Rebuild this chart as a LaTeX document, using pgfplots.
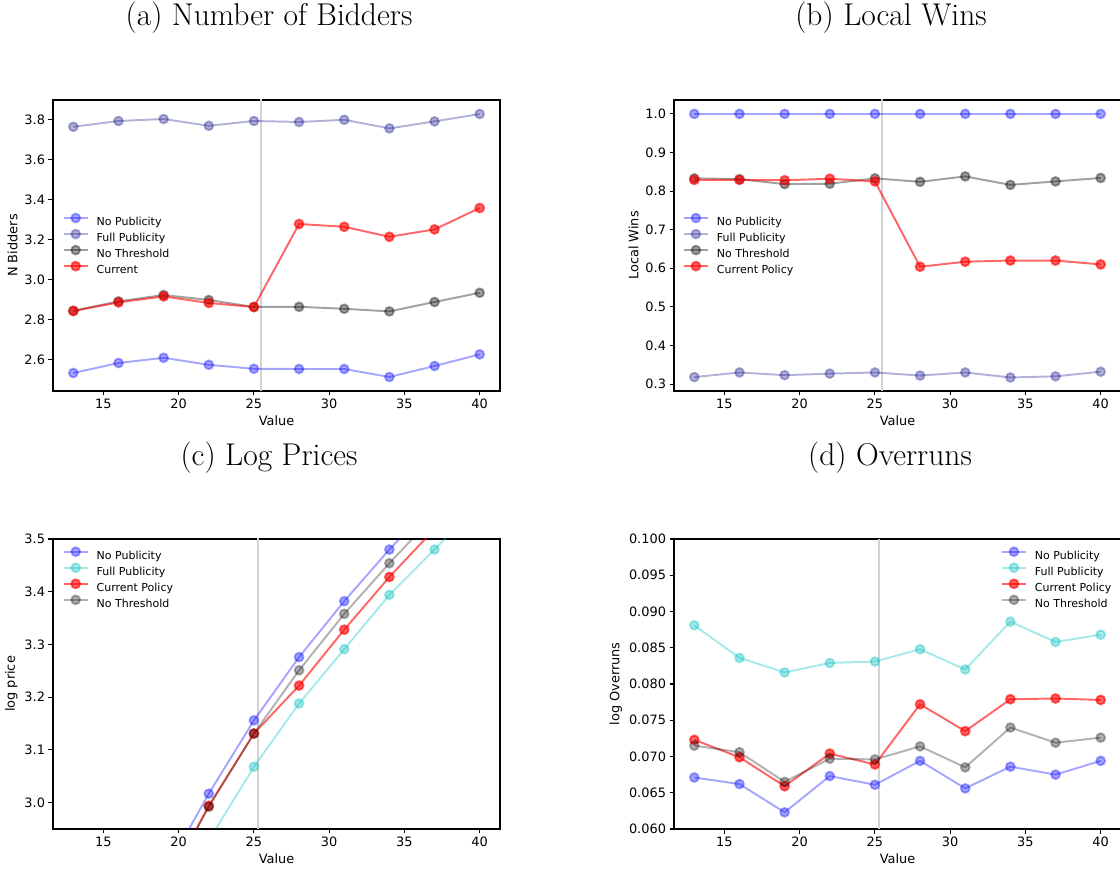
\documentclass[border=0pt]{standalone}
\usepackage{fontspec}
\setsansfont{DejaVu Sans}
\usepackage{pgfplots}
\pgfplotsset{compat=1.18}
\definecolor{navy}{RGB}{0,0,128}
\definecolor{mplc}{RGB}{0,191,191}
\definecolor{vlinec}{RGB}{211,211,211}

\pgfplotsset{
  panel/.style={
    scale only axis, width=447pt,
    xmin=11.65, xmax=41.35, xtick={15,20,...,40},
    tick pos=left, tick align=outside, major tick length=4.5pt,
    every tick/.style={black, line width=1.03pt},
    axis line style={line width=1.03pt},
    minor tick num=0,
    font=\sffamily\fontsize{12.9}{15.5}\selectfont,
    /pgf/number format/assume math mode=true,
    xlabel={Value},
    legend cell align=left,
    legend image code/.code={\draw[mark repeat=2,mark phase=2,##1] plot coordinates {(0pt,4.3pt) (12pt,4.3pt) (24pt,4.3pt)};},
    legend style={draw=none, fill=none, inner sep=0pt, outer sep=0pt,
      font=\sffamily\fontsize{11}{13}\selectfont, row sep=1.6pt, column sep=8pt,
      nodes={inner sep=0pt, text height=9pt, text depth=2.5pt}},
  },
  base/.style={line width=1.94pt, mark=*, mark size=4.4pt, mark options={solid, draw=none}},
  npub/.style={base, blue, opacity=0.35},
  fpubA/.style={base, navy, opacity=0.3},
  nthA/.style={base, black, opacity=0.37},
  cur/.style={base, red, opacity=0.6},
  fpubC/.style={base, mplc, opacity=0.35},
  nthC/.style={base, black, opacity=0.3},
  vl/.style={vlinec, line width=2pt, forget plot},
}

\begin{document}
\begin{tikzpicture}[x=1pt,y=1pt]
\path[use as bounding box] (0,0) rectangle (1120,871);

\node[anchor=base, font=\fontsize{31.5}{36}\selectfont] at (269,845.5) {(a) Number of Bidders};
\node[anchor=base, font=\fontsize{31.5}{36}\selectfont] at (891,845.5) {(b) Local Wins};
\node[anchor=base, font=\fontsize{31.5}{36}\selectfont] at (269,405.5) {(c) Log Prices};
\node[anchor=base, font=\fontsize{31.5}{36}\selectfont] at (890,405.5) {(d) Overruns};

% (a)
\begin{axis}[panel, at={(53pt,480pt)}, anchor=south west, height=291pt,
  ymin=2.442, ymax=3.897, ytick={2.6,2.8,...,3.81},
  yticklabel style={/pgf/number format/.cd, fixed, fixed zerofill, precision=1},
  ylabel={N Bidders},
  legend style={at={(0.0217,0.6096)}, anchor=north west}]
\addplot[vl] coordinates {(25.5,2.3) (25.5,4.0)};
\addplot[npub] coordinates {(13,2.532)(16,2.582)(19,2.608)(22,2.573)(25,2.553)(28,2.552)(31,2.552)(34,2.512)(37,2.567)(40,2.625)};
\addplot[fpubA] coordinates {(13,3.763)(16,3.792)(19,3.802)(22,3.768)(25,3.792)(28,3.787)(31,3.798)(34,3.755)(37,3.790)(40,3.827)};
\addplot[nthA] coordinates {(13,2.843)(16,2.890)(19,2.922)(22,2.897)(25,2.862)(28,2.863)(31,2.853)(34,2.840)(37,2.887)(40,2.933)};
\addplot[cur] coordinates {(13,2.842)(16,2.885)(19,2.915)(22,2.882)(25,2.862)(28,3.277)(31,3.263)(34,3.213)(37,3.250)(40,3.357)};
\legend{No Publicity, Full Publicity, No Threshold, Current}
\end{axis}

% (b)
\begin{axis}[panel, at={(674pt,480pt)}, anchor=south west, height=291pt,
  ymin=0.282, ymax=1.036, ytick={0.3,0.4,...,1.01},
  yticklabel style={/pgf/number format/.cd, fixed, fixed zerofill, precision=1},
  ylabel={Local Wins},
  legend style={at={(0.020,0.6096)}, anchor=north west}]
\addplot[vl] coordinates {(25.5,0.2) (25.5,1.1)};
\addplot[npub] coordinates {(13,1.0)(16,1.0)(19,1.0)(22,1.0)(25,1.0)(28,1.0)(31,1.0)(34,1.0)(37,1.0)(40,1.0)};
\addplot[fpubA] coordinates {(13,0.318)(16,0.330)(19,0.323)(22,0.327)(25,0.330)(28,0.322)(31,0.330)(34,0.317)(37,0.320)(40,0.332)};
\addplot[nthA] coordinates {(13,0.833)(16,0.831)(19,0.818)(22,0.819)(25,0.833)(28,0.824)(31,0.838)(34,0.816)(37,0.825)(40,0.834)};
\addplot[cur] coordinates {(13,0.829)(16,0.829)(19,0.828)(22,0.832)(25,0.825)(28,0.604)(31,0.617)(34,0.620)(37,0.620)(40,0.610)};
\legend{No Publicity, Full Publicity, No Threshold, Current Policy}
\end{axis}

% (c)
\begin{axis}[panel, at={(53pt,42pt)}, anchor=south west, height=290pt,
  ymin=2.95, ymax=3.5, ytick={3.0,3.1,...,3.51},
  yticklabel style={/pgf/number format/.cd, fixed, fixed zerofill, precision=1},
  ylabel={log price},
  legend style={at={(0.0217,0.9714)}, anchor=north west}]
\addplot[vl] coordinates {(25.25,2.9) (25.25,3.6)};
\addplot[npub] coordinates {(13,2.560)(16,2.712)(19,2.864)(22,3.017)(25,3.156)(28,3.276)(31,3.382)(34,3.480)(37,3.571)(40,3.662)};
\addplot[fpubC] coordinates {(13,2.500)(16,2.640)(19,2.784)(22,2.928)(25,3.068)(28,3.188)(31,3.291)(34,3.394)(37,3.480)(40,3.568)};
\addplot[cur] coordinates {(13,2.510)(16,2.673)(19,2.835)(22,2.994)(25,3.131)(28,3.222)(31,3.328)(34,3.428)(37,3.519)(40,3.610)};
\addplot[nthC] coordinates {(13,2.508)(16,2.671)(19,2.833)(22,2.992)(25,3.131)(28,3.251)(31,3.358)(34,3.454)(37,3.545)(40,3.636)};
\legend{No Publicity, Full Publicity, Current Policy, No Threshold}
\end{axis}

% (d)
\begin{axis}[panel, at={(674pt,42pt)}, anchor=south west, height=290pt,
  ymin=0.06, ymax=0.1, ytick={0.060,0.065,...,0.1001},
  yticklabel style={/pgf/number format/.cd, fixed, fixed zerofill, precision=3},
  ylabel={log Overruns},
  legend style={at={(0.7315,0.9714)}, anchor=north west}]
\addplot[vl] coordinates {(25.25,0.05) (25.25,0.11)};
\addplot[npub] coordinates {(13,0.0671)(16,0.0662)(19,0.0623)(22,0.0673)(25,0.0661)(28,0.0694)(31,0.0656)(34,0.0686)(37,0.0675)(40,0.0694)};
\addplot[fpubC] coordinates {(13,0.0881)(16,0.0836)(19,0.0816)(22,0.0829)(25,0.0831)(28,0.0848)(31,0.0820)(34,0.0886)(37,0.0858)(40,0.0868)};
\addplot[cur] coordinates {(13,0.0723)(16,0.0699)(19,0.0659)(22,0.0704)(25,0.0689)(28,0.0772)(31,0.0735)(34,0.0779)(37,0.0780)(40,0.0778)};
\addplot[nthC] coordinates {(13,0.0715)(16,0.0706)(19,0.0665)(22,0.0697)(25,0.0696)(28,0.0714)(31,0.0685)(34,0.0740)(37,0.0719)(40,0.0726)};
\legend{No Publicity, Full Publicity, Current Policy, No Threshold}
\end{axis}
\end{tikzpicture}
\end{document}
